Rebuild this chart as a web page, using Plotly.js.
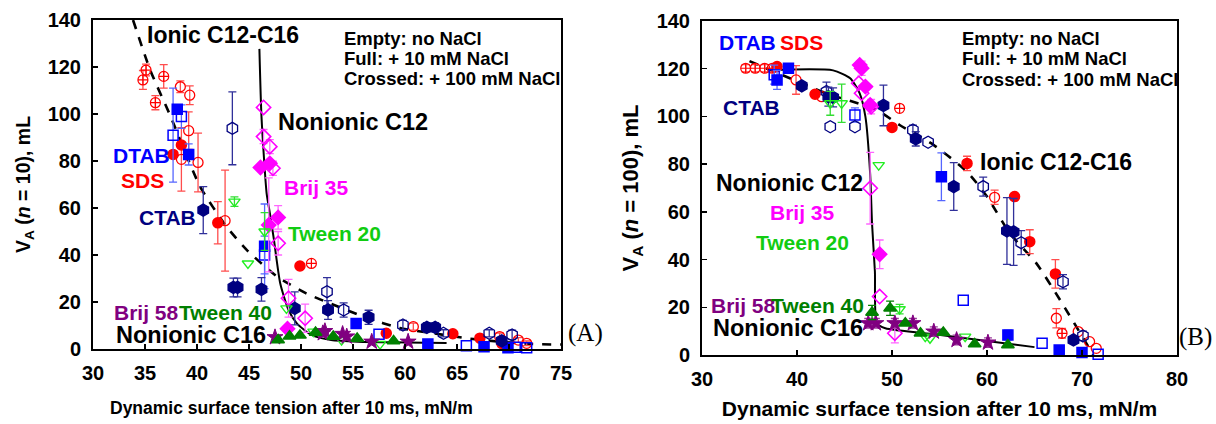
<!DOCTYPE html>
<html>
<head>
<meta charset="utf-8">
<script src="https://cdn.plot.ly/plotly-3.0.1.min.js"></script>
<style>html,body{margin:0;padding:0;background:#fff;}#chart{width:1216px;height:424px;}</style>
</head>
<body>
<div id="chart"></div>
<script>
// ---------- DATA: [x = dynamic surface tension (mN/m), y = V_A (mL), error (mL)] ----------
// Panel A: n = 10
const A_SDS_empty = [[38.4,111.6,2.5],[39.3,108,4],[39.2,92.9,8],[40.1,79.4,12.5],[38.5,80.7,13.5],[42.7,54.6,21.5],[60.8,9.5,1.5],[69.1,5.3,1.5],[70.9,3.8,1],[71.7,2.4,1]];
const A_SDS_full = [[37.7,82.8,0],[38.5,86.8,0],[42.0,53.7,9],[49.9,35.3,0],[58.2,6.7,1],[64.6,6.5,1],[67.2,4.6,1],[69.3,2.4,1]];
const A_SDS_cross = [[34.8,114.5,4],[35.1,118.7,2.5],[36.8,116,5],[36.0,104.8,3],[51.0,36.4,0]];
const A_CTAB_full = [[40.6,59.1,10],[43.5,26.2,4],[43.9,26.2,4],[46.2,25.4,5],[49.4,17.3,7],[52.6,16.6,4],[56.5,13.5,3],[62.1,9.2,2],[62.9,9.2,2],[69.3,3.5,1.5]];
const A_CTAB_empty = [[43.4,93.9,15.5],[52.5,24.4,6],[54.1,16.6,3],[59.8,10.2,2],[63.7,6.7,1.5],[68.1,6.7,1.5],[70.3,6,2]];
const A_DTAB_full = [[38.1,102,0],[39.2,82.8,4.5],[46.5,43.7,18],[55.3,10.9,2],[62.2,2.1,0],[67.6,1,0],[69.9,0.5,0]];
const A_DTAB_empty = [[37.7,91,20],[38.5,98.9,5],[46.5,40,8],[57.5,6.3,0],[65.9,1.4,0],[70.6,0.7,0],[71.7,0.5,0]];
const A_Brij35_empty = [[46.4,102.8,0],[46.4,90.4,3],[47.0,86.1,3],[47.3,76.9,3],[47.8,45,5],[48.8,21.6,8],[50.4,13.1,6]];
const A_Brij35_full = [[46.1,77.2,0],[47.0,79,0],[46.9,52.8,20],[47.8,56,5],[48.7,8.6,0]];
const A_Tween20 = [[43.6,62.7,2],[44.9,36.4,0],[46.5,50,8],[48.6,17.3,0],[51.2,7.4,0],[53.9,3.8,0],[57.6,2.1,0]];
const A_Tween40 = [[47.8,3.8,0],[48.9,5.4,0],[49.9,5.8,0],[51.4,7.0,0],[53.1,5.3,0],[55.4,4.5,0],[58.9,3.4,0]];
const A_Brij58 = [[47.5,5.0,0],[52.1,6.7,0],[52.3,7.6,0],[54.0,6.4,0],[54.4,5.3,0],[56.8,3.1,0],[60.3,3.1,0]];
// Fitted guide lines, panel A
const A_ionic_x = [33.85,35.5,37.4,40.3,42.85,44.8,47.7,50.5,53.3,56.3,59.5,62.7,65.9,69.1,72.3,75];
const A_ionic_y = [140,118.7,99.6,69.1,52,42.1,30.8,23.7,18.5,13.3,8.9,6.7,4.6,3.1,2.1,1.9];
const A_nonionic_x = [46.0,46.2,46.7,47.0,47.4,48.0,48.8,49.6,51.0,52.9,55.5,60,64];
const A_nonionic_y = [127.7,98.9,66,58,46.4,28,16.6,10.9,6,3.8,3.1,2.8,2.6];

// Panel B: n = 100
const B_SDS_empty = [[39.9,115.3,6],[42.6,108.3,0],[60.8,66.1,3],[67.3,15.4,4],[69.6,9.8,0],[70.8,5.6,0],[71.5,2.8,0]];
const B_SDS_full = [[37.9,120.9,0],[41.9,109.3,0],[50.0,95.4,0],[57.9,80.3,3],[62.9,66.4,0],[64.5,47.5,5],[67.2,34,6]];
const B_SDS_cross = [[34.6,120.2,1.5],[35.6,120.2,1.5],[36.6,120.2,1.5],[37.4,120.2,1.5],[50.8,103.4,0],[67.9,9.1,2]];
const B_CTAB_full = [[40.5,112.8,0],[43.3,108.3,4],[43.8,108.0,4],[49.1,104.6,8.5],[52.5,90.6,3],[56.5,70.6,10],[62.1,52,14],[62.8,51.6,14],[69.1,6.3,0]];
const B_CTAB_empty = [[43.1,110.4,4],[43.5,95.7,0],[46.1,95.7,0],[52.2,94.3,2],[53.8,89.2,0],[59.6,70.6,4],[63.6,47.1,5],[68.0,30.7,3],[70.1,8,2]];
const B_DTAB_full = [[37.9,115.3,4],[39.1,120.2,0],[55.2,74.7,10],[62.2,8.4,2],[67.6,2.1,0],[70.0,1,0]];
const B_DTAB_empty = [[37.6,117.5,4],[46.1,100.6,3],[57.5,23,0],[65.8,4.9,0],[71.7,0.3,0]];
const B_Brij35_full = [[46.8,120.2,3],[46.6,121.6,0],[47.2,112.5,0],[47.7,104.8,0],[48.7,42.2,6]];
const B_Brij35_empty = [[46.5,113.9,0],[46.8,109.7,0],[47.8,104.1,3],[47.7,69.9,15],[48.7,24.5,0],[50.3,9.1,4]];
const B_Tween20 = [[43.5,105.5,5],[44.7,105.5,8],[48.6,79.6,0],[50.8,19.2,2],[53.5,7.7,0],[54.0,7,0],[57.7,7.7,0]];
const B_Tween40 = [[47.9,17.8,3],[49.8,19.6,3],[51.4,13.3,0],[53.0,9.1,0],[55.4,9.4,0],[58.7,4.6,0],[62.2,4.2,0]];
const B_Brij58 = [[47.5,13.3,2],[48.3,13.3,2],[50.3,13.3,2],[52.2,13.3,2],[54.4,9.8,2],[56.8,6.3,2],[60.1,5.2,2]];
// Fitted guide lines, panel B
const B_ionic_x = [35.0,43.1,48.4,50.8,54.4,57.9,60.0,62.4,65.2,67.7,71.2];
const B_ionic_y = [123.2,109.7,102.7,96.4,88,76.8,66.4,51,38.4,23,0];
const B_nonionic_x = [37.5,43.8,45.6,46.6,47.2,47.7,47.9,48.2,48.4,49.3,55.1,65.0];
const B_nonionic_y = [119.5,119.3,116,109.7,99.9,76,55,35,13.3,11.2,8.4,3.3];

// Axis settings
const X_A_RANGE = [30, 75], X_B_RANGE = [30, 80], Y_RANGE = [0, 140];
const X_TITLE = '<b>Dynamic surface tension after 10 ms, mN/m</b>';
const Y_TITLE_A = '<b>V<sub>A</sub> (<i>n</i> = 10), mL</b>';
const Y_TITLE_B = '<b>V<sub>A</sub> (<i>n</i> = 100), mL</b>';

// ---------- BUILD ----------
const W = 1216, H = 424;
const FONT = 'Liberation Sans, Arial, Helvetica, sans-serif';

function pts(arr, xa, ya, symbol, color, ecolor, size, lw) {
  return {
    type: 'scatter', mode: 'markers', xaxis: xa, yaxis: ya, hoverinfo: 'x+y',
    x: arr.map(p => p[0]), y: arr.map(p => p[1]),
    error_y: {type: 'data', array: arr.map(p => p[2] ? p[2] : NaN), visible: true,
              color: ecolor, thickness: 1.3, width: 4},
    marker: {symbol: symbol, color: color, size: size, line: {width: lw || 1.5, color: color}},
    cliponaxis: false
  };
}
function line(xs, ys, xa, ya, dash, w) {
  return {type: 'scatter', mode: 'lines', xaxis: xa, yaxis: ya, x: xs, y: ys,
          line: {color: 'black', width: w, dash: dash, shape: 'spline', smoothing: 0.6}, hoverinfo: 'skip'};
}

const C = {
  SDS: ['#ff0000', '#ff4d4d'], DTAB: ['#0000ff', '#5566ff'], CTAB: ['#000080', '#30309a'],
  B35: ['#ff00ff', '#ff66ff'], T20: ['#22ee22', '#33dd33'], T40: ['#008000', '#008000'], B58: ['#800080', '#9a3a9a']
};

function panel(P, xa, ya) {
  return [
    line(P.ionx, P.iony, xa, ya, 'dash', 2.6),
    line(P.nonx, P.nony, xa, ya, 'solid', 2),
    pts(P.SDS_cross, xa, ya, 'circle-cross-open', C.SDS[0], C.SDS[1], 10, 1.2),
    pts(P.SDS_empty, xa, ya, 'circle-open', C.SDS[0], C.SDS[1], 10, 1.3),
    pts(P.SDS_full, xa, ya, 'circle', C.SDS[0], C.SDS[1], 10),
    pts(P.DTAB_empty, xa, ya, 'square-open', C.DTAB[0], C.DTAB[1], 10, 1.5),
    pts(P.DTAB_full, xa, ya, 'square', C.DTAB[0], C.DTAB[1], 10),
    pts(P.CTAB_empty, xa, ya, 'hexagon-open', C.CTAB[0], C.CTAB[1], 12, 1.3),
    pts(P.CTAB_full, xa, ya, 'hexagon', C.CTAB[0], C.CTAB[1], 12),
    pts(P.B35_empty, xa, ya, 'diamond-open', C.B35[0], C.B35[1], 11, 1.6),
    pts(P.B35_full, xa, ya, 'diamond', C.B35[0], C.B35[1], 11),
    pts(P.T20, xa, ya, 'triangle-down-open', C.T20[0], C.T20[1], 10, 1.4),
    pts(P.B58, xa, ya, 'star', C.B58[0], C.B58[1], 12, 1),
    pts(P.T40, xa, ya, 'triangle-up', C.T40[0], C.T40[1], 11)
  ];
}

const traces = [].concat(
  panel({ionx: A_ionic_x, iony: A_ionic_y, nonx: A_nonionic_x, nony: A_nonionic_y,
         SDS_cross: A_SDS_cross, SDS_empty: A_SDS_empty, SDS_full: A_SDS_full,
         DTAB_empty: A_DTAB_empty, DTAB_full: A_DTAB_full, CTAB_empty: A_CTAB_empty, CTAB_full: A_CTAB_full,
         B35_empty: A_Brij35_empty, B35_full: A_Brij35_full, T20: A_Tween20, T40: A_Tween40, B58: A_Brij58}, 'x', 'y'),
  panel({ionx: B_ionic_x, iony: B_ionic_y, nonx: B_nonionic_x, nony: B_nonionic_y,
         SDS_cross: B_SDS_cross, SDS_empty: B_SDS_empty, SDS_full: B_SDS_full,
         DTAB_empty: B_DTAB_empty, DTAB_full: B_DTAB_full, CTAB_empty: B_CTAB_empty, CTAB_full: B_CTAB_full,
         B35_empty: B_Brij35_empty, B35_full: B_Brij35_full, T20: B_Tween20, T40: B_Tween40, B58: B_Brij58}, 'x2', 'y2')
);

function ann(text, px, py, color, size, family, anchor) {
  return {xref: 'paper', yref: 'paper', x: px / W, y: 1 - py / H, xanchor: anchor || 'left', yanchor: 'middle',
          showarrow: false, text: text, font: {family: family || FONT, size: size, color: color}};
}
const SERIF = 'Liberation Serif, Times New Roman, serif';
const T20L = '#11cc11';

const annotations = [
  // Panel A
  ann('<b>Ionic C12-C16</b>', 145, 35, 'black', 23),
  ann('<b>Empty: no NaCl</b>', 342, 38, 'black', 18.5),
  ann('<b>Full: + 10 mM NaCl</b>', 342, 58, 'black', 18.5),
  ann('<b>Crossed: + 100 mM NaCl</b>', 342, 78, 'black', 18.5),
  ann('<b>Nonionic C12</b>', 276, 122, 'black', 23.5),
  ann('<b>Brij 35</b>', 282, 187, C.B35[0], 21),
  ann('<b>DTAB</b>', 111, 155, C.DTAB[0], 21),
  ann('<b>SDS</b>', 119, 180, C.SDS[0], 21),
  ann('<b>CTAB</b>', 137, 217, C.CTAB[0], 21),
  ann('<b>Tween 20</b>', 286, 233, T20L, 21),
  ann('<b>Brij 58</b>', 112, 312, C.B58[0], 21),
  ann('<b>Tween 40</b>', 177, 312, C.T40[0], 21),
  ann('<b>Nonionic C16</b>', 114, 335, 'black', 23.5),
  ann('(A)', 566, 333, 'black', 25, SERIF),
  ann(X_TITLE, 291, 408, 'black', 17.5, FONT, 'center'),
  // Panel B
  ann('<b>DTAB</b>', 717, 43, C.DTAB[0], 21),
  ann('<b>SDS</b>', 778, 43, C.SDS[0], 21),
  ann('<b>CTAB</b>', 721, 107, C.CTAB[0], 21),
  ann('<b>Empty: no NaCl</b>', 960, 39, 'black', 18.5),
  ann('<b>Full: + 10 mM NaCl</b>', 960, 59, 'black', 18.5),
  ann('<b>Crossed: + 100 mM NaCl</b>', 960, 80, 'black', 18.5),
  ann('<b>Ionic C12-C16</b>', 978, 162, 'black', 23),
  ann('<b>Nonionic C12</b>', 714, 183, 'black', 23),
  ann('<b>Brij 35</b>', 768, 212, C.B35[0], 21),
  ann('<b>Tween 20</b>', 754, 243, T20L, 21),
  ann('<b>Brij 58</b>', 709, 305, C.B58[0], 21),
  ann('<b>Tween 40</b>', 769, 305, C.T40[0], 21),
  ann('<b>Nonionic C16</b>', 711, 328, 'black', 23.5),
  ann('(B)', 1177, 337, 'black', 25, SERIF)
];

function baseAxis() {
  return {ticks: 'inside', ticklen: 5, tickwidth: 1.5, tickcolor: 'black', showline: true, linewidth: 2,
          linecolor: 'black', mirror: true, showgrid: false, zeroline: false,
          tickfont: {family: FONT, size: 20, color: 'black', weight: 700}};
}
function xax(domain, range, dtick, anchor, title, tsize, standoff) {
  const a = Object.assign(baseAxis(), {domain: domain, range: range, dtick: dtick, anchor: anchor, ticklabelstandoff: 5});
  if (title) a.title = {text: title, font: {family: FONT, size: tsize, color: 'black'}, standoff: standoff};
  return a;
}
function yax(domain, anchor, title, tsize, standoff) {
  return Object.assign(baseAxis(), {domain: domain, range: Y_RANGE, dtick: 20, anchor: anchor, ticklabelstandoff: 6,
          title: {text: title, font: {family: FONT, size: tsize, color: 'black'}, standoff: standoff}});
}

const layout = {
  width: W, height: H, margin: {l: 0, r: 0, t: 0, b: 0}, showlegend: false,
  paper_bgcolor: 'white', plot_bgcolor: 'white', font: {family: FONT, color: 'black'},
  xaxis: xax([93 / W, 561 / W], X_A_RANGE, 5, 'y'),
  yaxis: yax([1 - 349 / H, 1 - 20 / H], 'x', Y_TITLE_A, 19.5, 12),
  xaxis2: xax([702 / W, 1177 / W], X_B_RANGE, 10, 'y2', X_TITLE, 21, 12),
  yaxis2: yax([1 - 355 / H, 1 - 21 / H], 'x2', Y_TITLE_B, 22, 12),
  annotations: annotations
};

Plotly.newPlot('chart', traces, layout, {staticPlot: true, displayModeBar: false});
</script>
</body>
</html>
